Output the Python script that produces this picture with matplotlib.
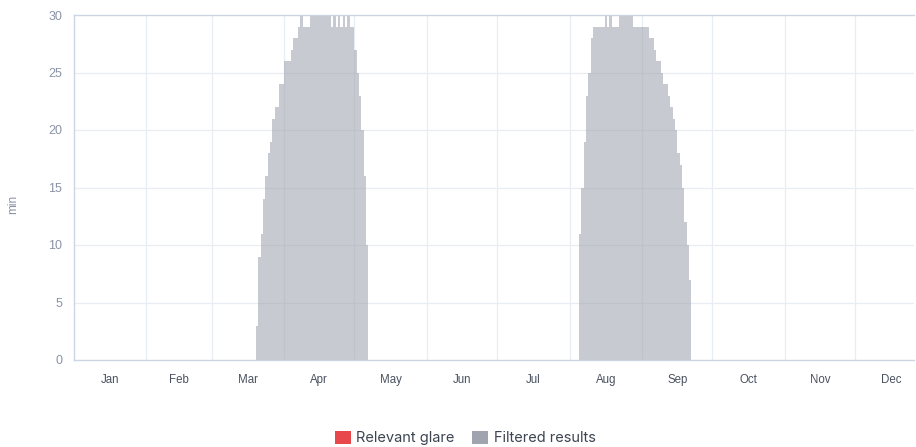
import matplotlib
matplotlib.use("Agg")
import matplotlib.pyplot as plt
from matplotlib.patches import Patch
import numpy as np

# ---- data ----
month_labels = ["Jan", "Feb", "Mar", "Apr", "May", "Jun",
                "Jul", "Aug", "Sep", "Oct", "Nov", "Dec"]
month_start_day = [0, 31, 59, 90, 120, 151, 181, 212, 243, 273, 304, 334]
month_length = [31, 28, 31, 30, 31, 30, 31, 31, 30, 31, 30, 31]

spring_start_day = 78
spring_minutes = [3, 9, 11, 14, 16, 18, 19, 21, 22, 22, 24, 24, 26, 26, 26, 27, 28, 28, 29, 30,
                  29, 29, 29,
                  30, 30, 30, 30, 30, 30, 30, 30, 30,
                  29, 30, 29, 30, 29, 30, 29, 30, 29, 29,
                  27, 25, 23, 20, 16, 10]

autumn_start_day = 216
autumn_minutes = [11, 15, 19, 23, 25, 28,
                  29, 29, 29, 29, 29,
                  30, 29, 30, 29, 29, 29,
                  30, 30, 30, 30, 30, 30,
                  29, 29, 29, 29, 29, 29, 29,
                  28, 28, 27, 26, 26, 25, 24, 24, 23, 22, 21, 20, 18, 17, 15, 12, 10, 7]

series_labels = ["Relevant glare", "Filtered results"]
series_colors = ["#e8474b", "#9fa4ae"]

y_ticks = [0, 5, 10, 15, 20, 25, 30]
x_max_day = 359.2

# ---- figure ----
fig = plt.figure(figsize=(9.16, 4.47), dpi=100)
ax = fig.add_axes([73.5 / 916, 1 - 360 / 447, (914 - 73.5) / 916, (360 - 15) / 447])

grid_color = "#e8edf3"
axis_color = "#ccd6e3"

for d in month_start_day[1:]:
    ax.axvline(d, color=grid_color, lw=0.9, zorder=0)
for yv in y_ticks[1:-1]:
    ax.axhline(yv, color=grid_color, lw=0.9, zorder=0)

days_spring = spring_start_day + np.arange(len(spring_minutes))
days_autumn = autumn_start_day + np.arange(len(autumn_minutes))
days = np.concatenate([days_spring, days_autumn])
mins = np.concatenate([spring_minutes, autumn_minutes])
ax.bar(days, mins, width=1.0, align="edge", color=series_colors[1], alpha=0.58,
       linewidth=0, zorder=2)

ax.set_xlim(0, x_max_day)
ax.set_ylim(0, 30)

ax.set_yticks(y_ticks)
ax.set_yticklabels([str(v) for v in y_ticks])
mids = [s + l / 2 for s, l in zip(month_start_day, month_length)]
ax.set_xticks(mids)
ax.set_xticklabels(month_labels)

ax.tick_params(axis="y", length=0, pad=8, labelsize=9, labelcolor="#8a93a5")
ax.tick_params(axis="x", length=0, pad=10, labelsize=8.3, labelcolor="#4a5260")
for lab in ax.get_xticklabels() + ax.get_yticklabels():
    lab.set_family(["Liberation Sans", "DejaVu Sans"])

for side in ["left", "bottom", "top"]:
    ax.spines[side].set_color(axis_color)
    ax.spines[side].set_linewidth(1.0)
ax.spines["right"].set_visible(False)

ax.set_ylabel("min", fontsize=8.5, color="#8a93a5", family=["Liberation Sans", "DejaVu Sans"])
ax.yaxis.set_label_coords(-0.065, 0.452)

handles = [Patch(facecolor=c, edgecolor="none") for c in series_colors]
fig.legend(handles, series_labels, loc="center", bbox_to_anchor=(465 / 916, 1 - 438 / 447),
           ncol=2, frameon=False, fontsize=10.5, handlelength=1.1, handleheight=1.05,
           handletextpad=0.4, columnspacing=1.15, labelcolor="#3d4451",
           prop={"family": ["Inter", "DejaVu Sans"], "size": 10.5})

fig.savefig("out.png", dpi=100)
